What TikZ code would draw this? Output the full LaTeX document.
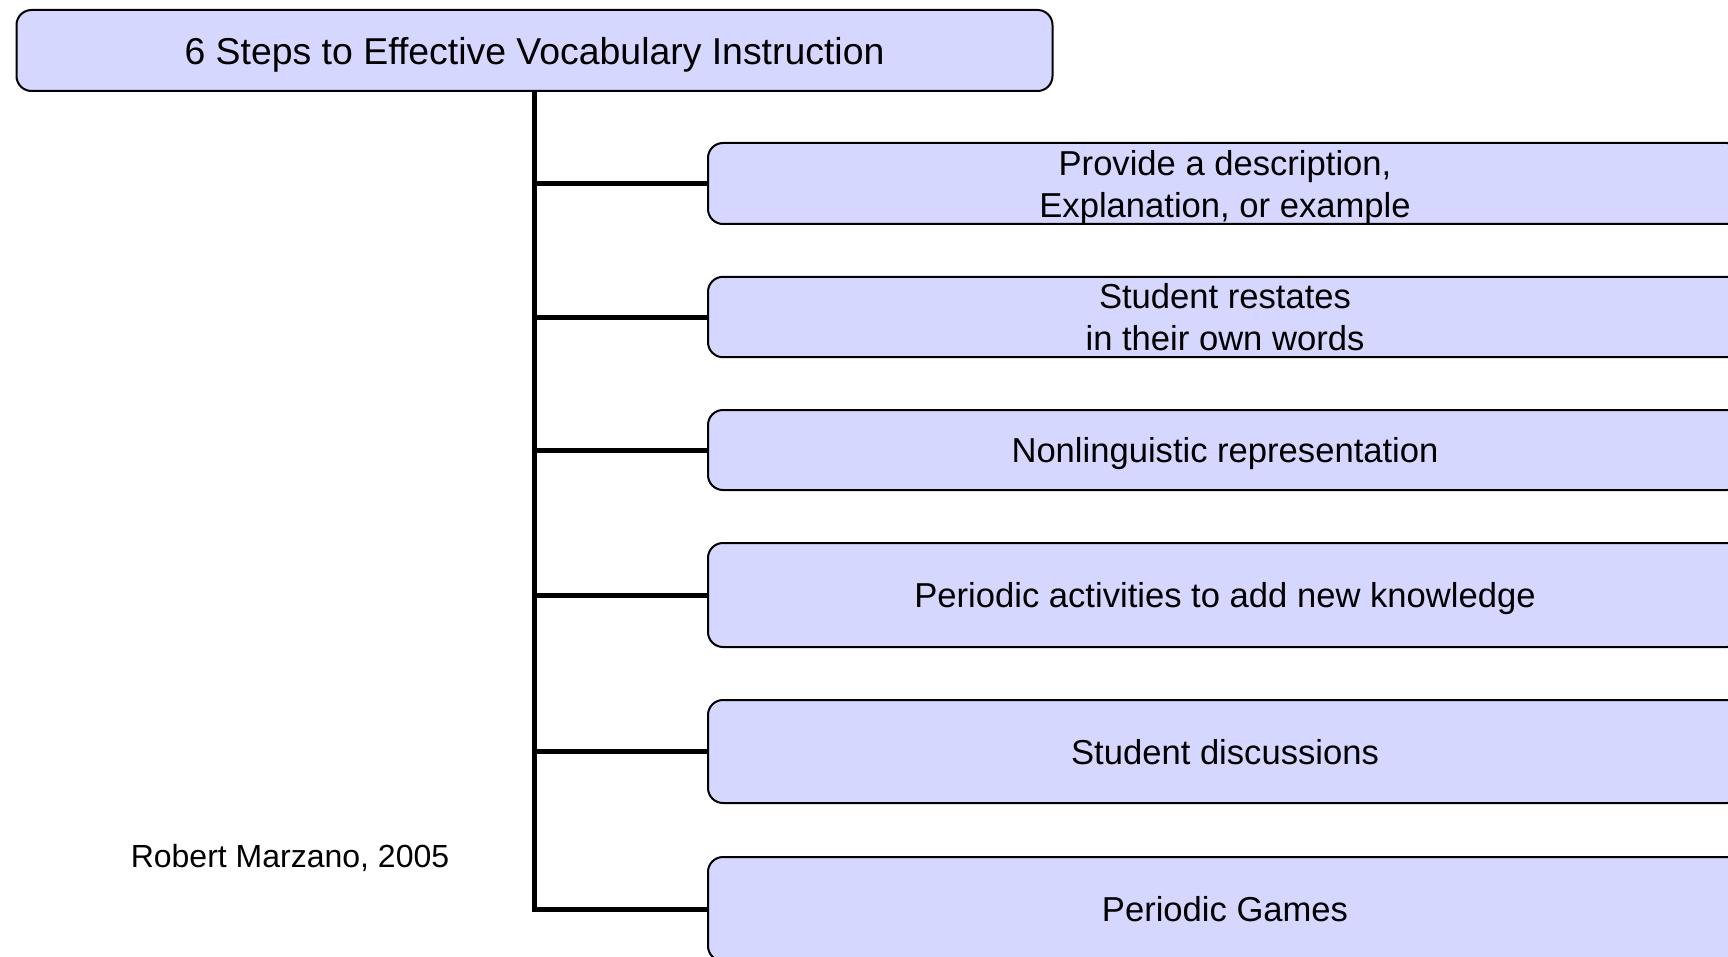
\documentclass[tikz,border=0pt]{standalone}
\usepackage{fontspec}
\setmainfont{Liberation Sans}
\definecolor{boxfill}{RGB}{213,215,255}
\tikzset{
  stepbox/.style={draw, fill=boxfill, rounded corners=7.5pt, line width=1pt,
    minimum width=517pt, align=center, anchor=west, text depth=0pt,
    font=\fontsize{17.3}{21}\selectfont},
  trunk/.style={line width=2.5pt}
}
\begin{document}
\begin{tikzpicture}[x=0.5pt,y=-0.5pt]
  \useasboundingbox (0,0) rectangle (1728,957);
  \clip (0,0) rectangle (1728,957);
  \node (title) [stepbox, anchor=center, minimum width=518pt, minimum height=40.5pt,
    font=\fontsize{18.7}{22}\selectfont] at (534.5,50.5) {6 Steps to Effective Vocabulary Instruction};
  \node (s1) [stepbox, minimum height=40.5pt] at (707,183.5) {Provide a description,\\ Explanation, or example};
  \node (s2) [stepbox, minimum height=40pt] at (707,317) {Student restates\\ in their own words};
  \node (s3) [stepbox, minimum height=40pt] at (707,450) {Nonlinguistic representation};
  \node (s4) [stepbox, minimum height=52pt] at (707,595) {Periodic activities to add new knowledge};
  \node (s5) [stepbox, minimum height=51.5pt] at (707,751.5) {Student discussions};
  \node (s6) [stepbox, minimum height=52pt] at (707,909) {Periodic Games};
  \node (credit) [text depth=0pt, font=\fontsize{16}{19}\selectfont] at (290,855.5) {Robert Marzano, 2005};
  \draw [trunk] (title.south) |- (s6.west);
  \foreach \n in {1,...,5} {
    \draw [trunk] (title.south |- s\n.west) -- (s\n.west);
  }
\end{tikzpicture}
\end{document}
